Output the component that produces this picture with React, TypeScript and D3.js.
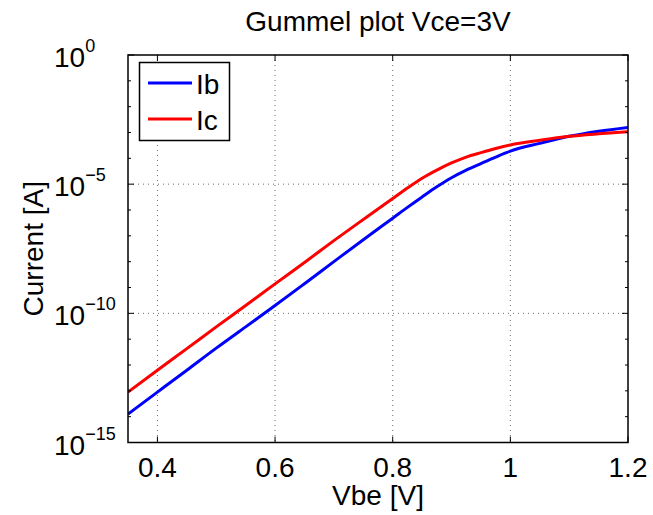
import React, { useEffect, useRef } from 'react';
import * as d3 from 'd3';

const vbe = [0.35, 0.4, 0.45, 0.5, 0.55, 0.6, 0.65, 0.7, 0.75, 0.8, 0.825, 0.85, 0.875, 0.9, 0.925, 0.95, 0.975, 1.0, 1.05, 1.1, 1.15, 1.2];
const ib = [1.26e-14, 8.9e-14, 6.3e-13, 4.5e-12, 3.0e-11, 2.0e-10, 1.4e-9, 1.0e-8, 7.1e-8, 4.8e-7, 1.26e-6, 3.2e-6, 7.9e-6, 1.78e-5, 3.5e-5, 6.3e-5, 1.12e-4, 1.9e-4, 3.8e-4, 7.1e-4, 1.12e-3, 1.58e-3];
const ic = [8.9e-14, 6.3e-13, 4.3e-12, 3.0e-11, 2.0e-10, 1.38e-9, 9.3e-9, 6.5e-8, 4.3e-7, 2.8e-6, 7.1e-6, 1.7e-5, 3.5e-5, 6.6e-5, 1.12e-4, 1.66e-4, 2.4e-4, 3.3e-4, 5.0e-4, 7.1e-4, 8.9e-4, 1.07e-3];

const xTicks = [0.4, 0.6, 0.8, 1, 1.2];
const xTickLabels = ['0.4', '0.6', '0.8', '1', '1.2'];
const yTicks = [1e-15, 1e-10, 1e-5, 1e0];
const yTickExps = ['\u221215', '\u221210', '\u22125', '0'];
const seriesNames = ['Ib', 'Ic'];
const seriesColors = ['#0000ff', '#ff0000'];

const W = 653;
const H = 515;
const font = '"Liberation Sans", Arial, Helvetica, sans-serif';

export default function App() {
  const ref = useRef<SVGSVGElement>(null);

  useEffect(() => {
    const svg = d3.select(ref.current);
    svg.selectAll('*').remove();

    const left = 128, right = 628, top = 55, bottom = 442.5;

    const x = d3.scaleLinear().domain([0.35, 1.2]).range([left, right]);
    const y = d3.scaleLog().domain([1e-15, 1]).range([bottom, top]);

    svg.append('rect').attr('width', W).attr('height', H).attr('fill', '#fff');

    // grid
    const grid = svg.append('g')
      .attr('stroke', '#444')
      .attr('stroke-width', 0.8)
      .attr('stroke-dasharray', '1 4');
    grid.selectAll('line.gx')
      .data(xTicks.filter(t => t < 1.2))
      .enter()
      .append('line')
      .attr('x1', d => x(d)).attr('x2', d => x(d))
      .attr('y1', top).attr('y2', bottom);
    grid.selectAll('line.gy')
      .data(yTicks.filter(t => t > 1e-15 && t < 1))
      .enter()
      .append('line')
      .attr('class', 'gy')
      .attr('x1', left).attr('x2', right)
      .attr('y1', d => y(d)).attr('y2', d => y(d));

    // lines
    svg.append('clipPath').attr('id', 'clip')
      .append('rect').attr('x', left).attr('y', top)
      .attr('width', right - left).attr('height', bottom - top);

    const line = d3.line<number>()
      .x((d, i) => x(vbe[i]))
      .y(d => y(d))
      .curve(d3.curveMonotoneX);

    [ib, ic].forEach((s, k) => {
      svg.append('path')
        .datum(s)
        .attr('clip-path', 'url(#clip)')
        .attr('fill', 'none')
        .attr('stroke', seriesColors[k])
        .attr('stroke-width', 3)
        .attr('stroke-linejoin', 'round')
        .attr('d', line);
    });

    // box + ticks
    const axes = svg.append('g').attr('stroke', '#000').attr('stroke-width', 1.5).attr('fill', 'none');
    axes.append('rect')
      .attr('x', left).attr('y', top)
      .attr('width', right - left).attr('height', bottom - top);

    xTicks.forEach(t => {
      axes.append('line').attr('x1', x(t)).attr('x2', x(t)).attr('y1', bottom).attr('y2', bottom - 6).attr('stroke-width', 1);
      axes.append('line').attr('x1', x(t)).attr('x2', x(t)).attr('y1', top).attr('y2', top + 6).attr('stroke-width', 1);
    });
    d3.range(-15, 1).forEach(e => {
      const len = e % 5 === 0 ? 6 : 3;
      axes.append('line').attr('x1', left).attr('x2', left + len).attr('y1', y(Math.pow(10, e))).attr('y2', y(Math.pow(10, e))).attr('stroke-width', 1);
      axes.append('line').attr('x1', right).attr('x2', right - len).attr('y1', y(Math.pow(10, e))).attr('y2', y(Math.pow(10, e))).attr('stroke-width', 1);
    });

    // tick labels
    svg.append('g')
      .selectAll('text')
      .data(xTicks)
      .enter()
      .append('text')
      .attr('x', d => x(d))
      .attr('y', bottom + 34)
      .attr('text-anchor', 'middle')
      .attr('font-family', font)
      .attr('font-size', 28)
      .text((d, i) => xTickLabels[i]);

    const yl = svg.append('g')
      .selectAll('text')
      .data(yTicks)
      .enter()
      .append('text')
      .attr('x', 54)
      .attr('y', d => y(d) + 12)
      .attr('font-family', font)
      .attr('font-size', 28);
    yl.append('tspan').text('10');
    yl.append('tspan')
      .attr('font-size', 18)
      .attr('dy', -15)
      .text((d, i) => yTickExps[i]);

    // title and axis labels
    svg.append('text')
      .attr('x', (left + right) / 2).attr('y', 31)
      .attr('text-anchor', 'middle')
      .attr('font-family', font).attr('font-size', 28)
      .text('Gummel plot Vce=3V');
    svg.append('text')
      .attr('x', (left + right) / 2).attr('y', 505)
      .attr('text-anchor', 'middle')
      .attr('font-family', font).attr('font-size', 28)
      .text('Vbe [V]');
    svg.append('text')
      .attr('transform', `translate(43,${(top + bottom) / 2}) rotate(-90)`)
      .attr('text-anchor', 'middle')
      .attr('font-family', font).attr('font-size', 28)
      .text('Current [A]');

    // legend
    const lg = svg.append('g');
    lg.append('rect')
      .attr('x', 139.5).attr('y', 62.5).attr('width', 90).attr('height', 78)
      .attr('fill', '#fff').attr('stroke', '#000').attr('stroke-width', 1.5);
    seriesNames.forEach((n, k) => {
      const yy = 83 + k * 36;
      lg.append('line')
        .attr('x1', 148).attr('x2', 192).attr('y1', yy).attr('y2', yy)
        .attr('stroke', seriesColors[k]).attr('stroke-width', 3);
      lg.append('text')
        .attr('x', 196).attr('y', yy + 11)
        .attr('font-family', font).attr('font-size', 28)
        .text(n);
    });
  }, []);

  return (
    <svg ref={ref} width={W} height={H} style={{ position: 'absolute', left: 0, top: 0, display: 'block' }} />
  );
}
